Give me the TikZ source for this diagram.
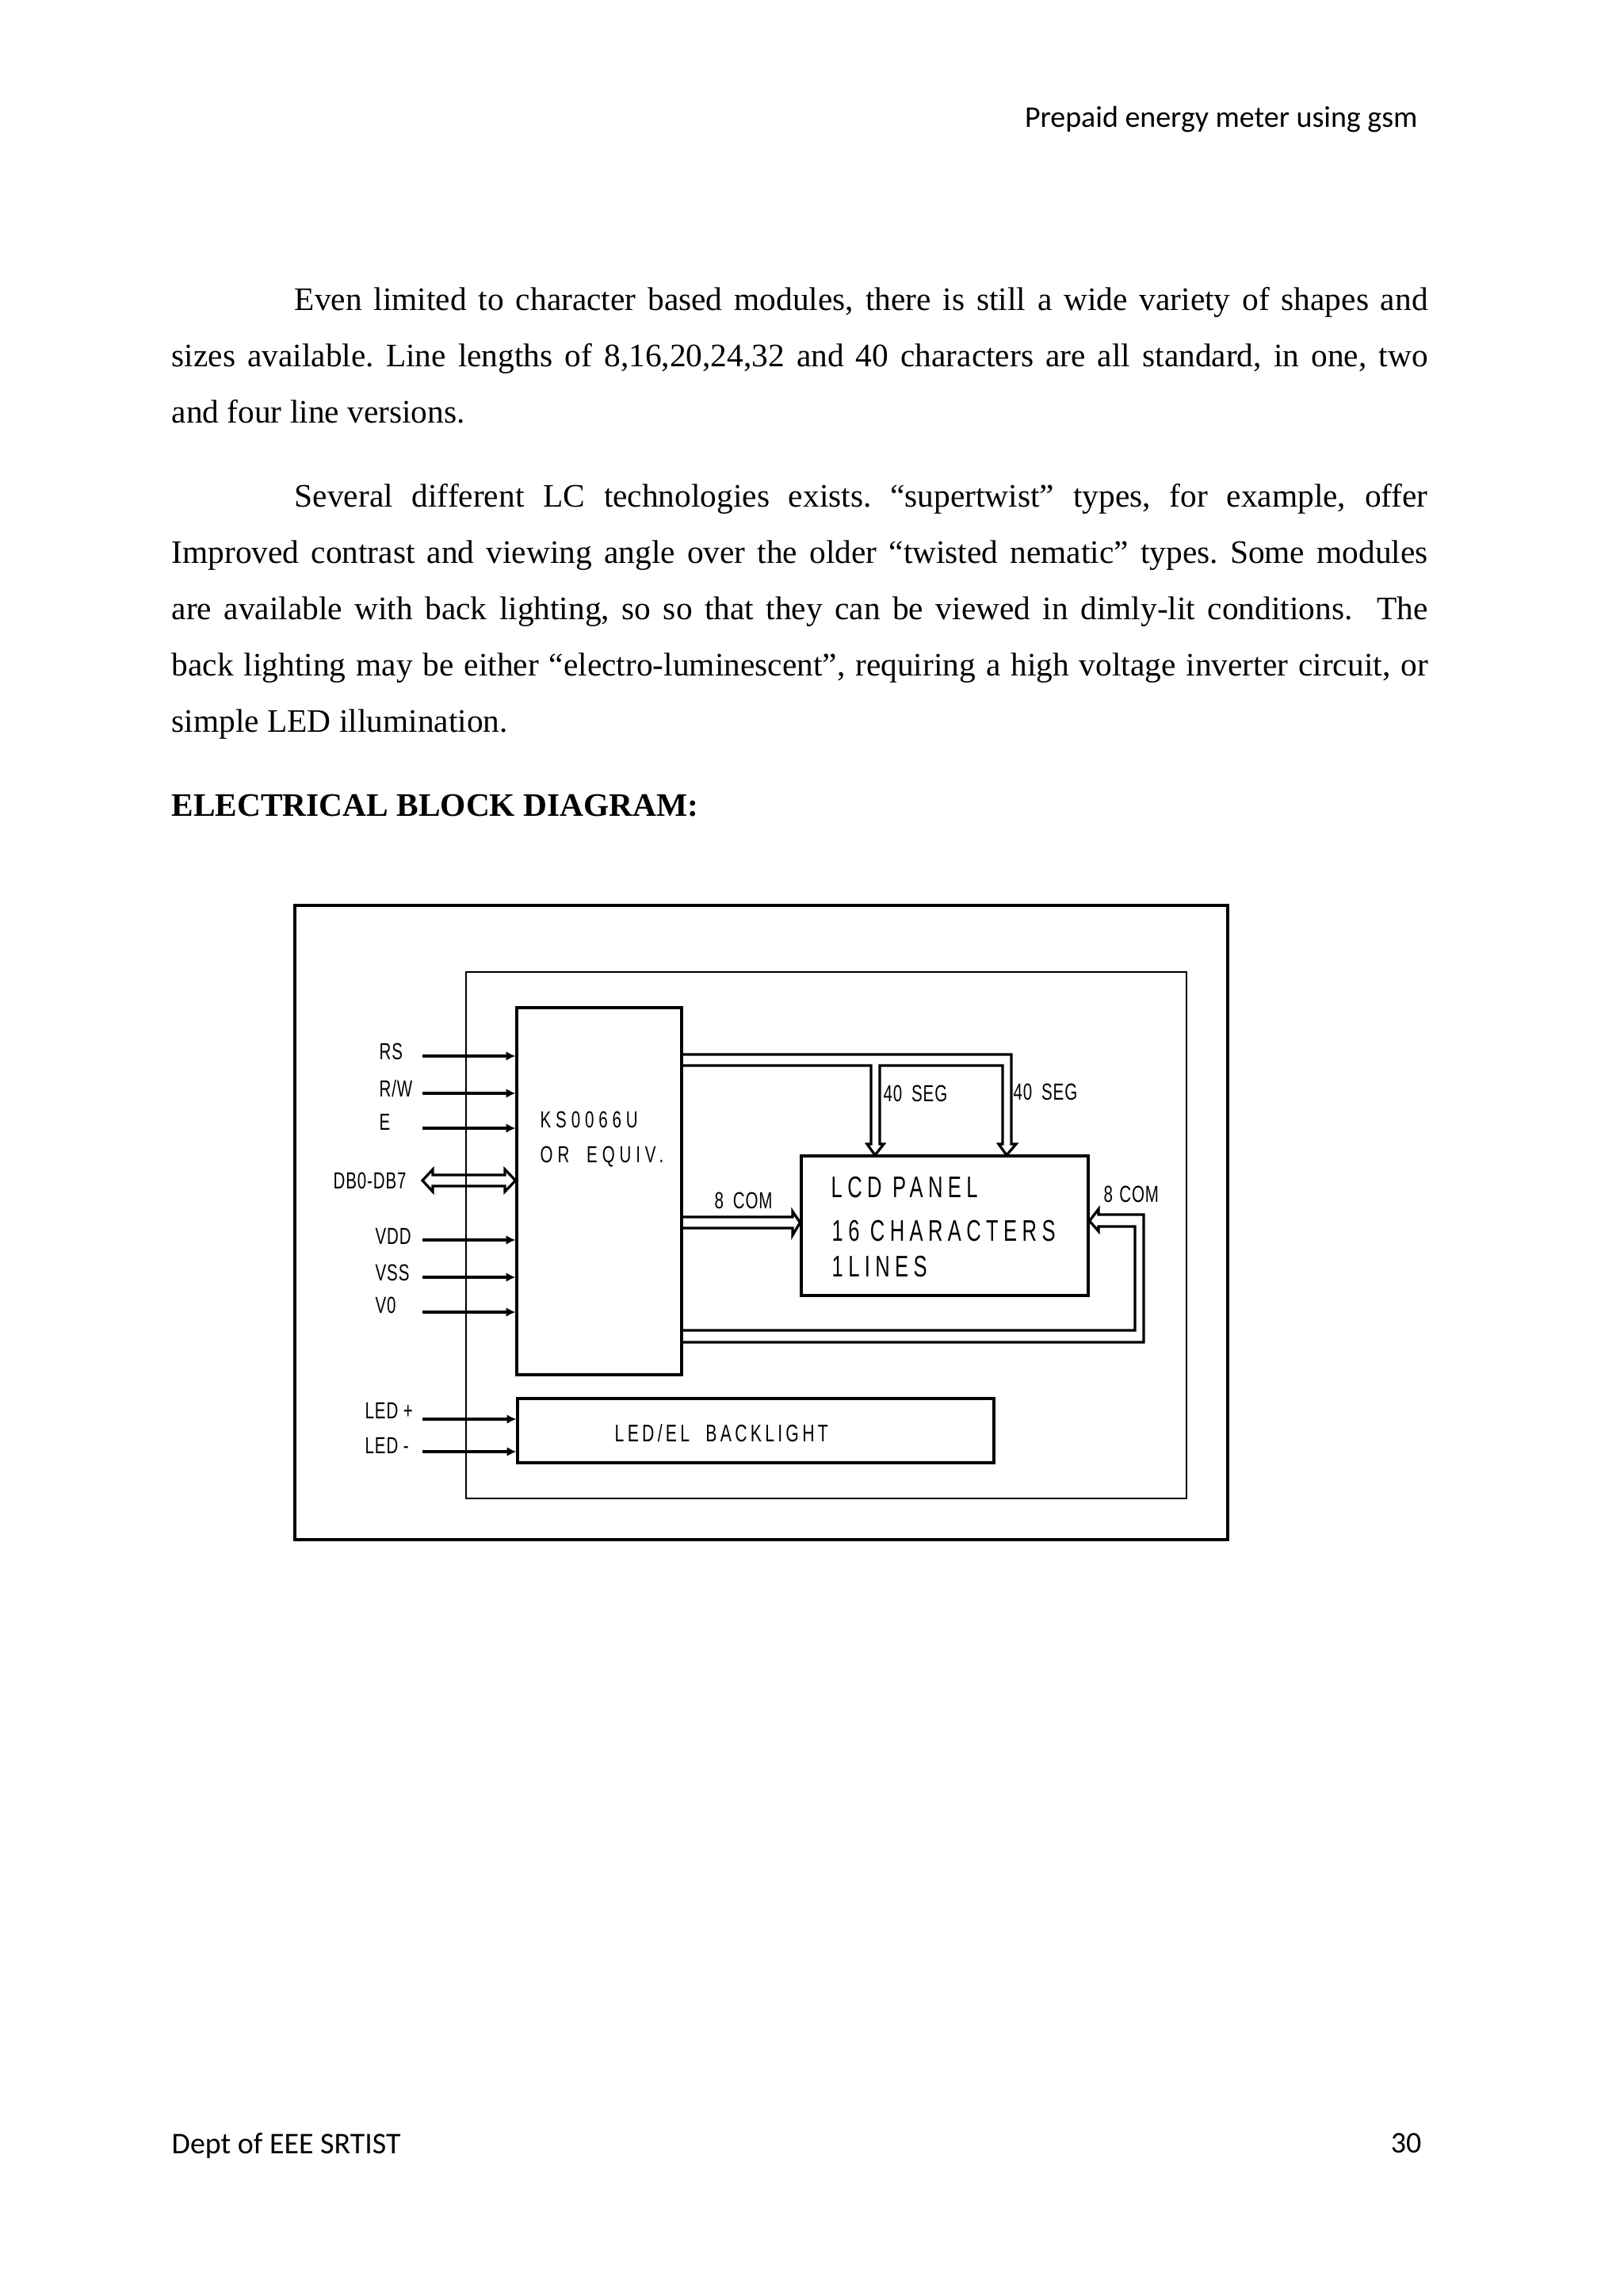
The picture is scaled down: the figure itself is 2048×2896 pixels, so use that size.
\documentclass[tikz,border=0pt]{standalone}
\usepackage{fontspec}
\setmainfont{Liberation Serif}
\newfontfamily\pagefoot{Carlito}
\newfontfamily\chipfont[FakeStretch=0.7,LetterSpace=3]{Liberation Sans}
\newfontfamily\wideifont[FakeStretch=0.7,LetterSpace=20]{Liberation Sans}
\newfontfamily\blfont[FakeStretch=0.7,LetterSpace=14]{Liberation Sans}
\newfontfamily\panelfont[FakeStretch=0.68,LetterSpace=17]{Liberation Sans}
\usetikzlibrary{arrows.meta,fit}
\tikzset{
    box/.style={draw, line width=0.9pt, inner sep=0pt},
    sig/.style={line width=0.95pt, -{Latex[length=3.4pt,width=3.4pt]}},
    bus/.style={line width=0.95pt, line join=miter},
    lbl/.style={anchor=west, inner sep=0pt, text depth=0pt, font=\chipfont\fontsize{8.5}{10}\selectfont},
    chip/.style={lbl, font=\wideifont\fontsize{8.5}{10}\selectfont},
    blname/.style={lbl, font=\blfont\fontsize{8.8}{10}\selectfont},
    panel/.style={lbl, font=\panelfont\fontsize{10.9}{13}\selectfont},
    para/.style={anchor=north west, inner sep=0pt, text width=459.6pt, align=justify, font=\fontsize{12}{20.6}\selectfont\frenchspacing\sloppy},
    foot/.style={inner sep=0pt, text depth=0.25ex, font=\pagefoot\fontsize{11}{13}\selectfont}
}
\begin{document}
\begin{tikzpicture}[x=0.29pt, y=-0.29pt]
    \useasboundingbox (0,0) rectangle (2048,2896);

    % Page text
    \node[foot, anchor=east] (header) at (1789,149) {Prepaid energy meter using gsm};
    \node[para] (parone) at (216,362) {\hspace*{45pt}Even limited to character based modules, there is still a wide variety of shapes and\linebreak sizes available. Line lengths of 8,16,20,24,32 and 40 characters are all standard, in one, two\linebreak and four line versions.};
    \node[para] (partwo) at (216,610) {\hspace*{45pt}Several different LC technologies exists. “supertwist” types, for example, offer\linebreak Improved contrast and viewing angle over the older “twisted nematic” types. Some modules\linebreak are available with back lighting, so so that they can be viewed in dimly-lit conditions.\ \ The\linebreak back lighting may be either “electro-luminescent”, requiring a high voltage inverter circuit, or\linebreak simple LED illumination.};
    \node[anchor=west, inner sep=0pt, font=\bfseries\fontsize{12}{14}\selectfont] (title) at (216,1016) {ELECTRICAL BLOCK DIAGRAM:};
    \node[foot, anchor=west] (footer) at (216,2705) {Dept of EEE SRTIST};
    \node[foot, anchor=east] (pageno) at (1794,2705) {30};

    % Boxes
    \node[box, fit={(372,1142) (1549,1942)}] (frame) {};
    \node[box, line width=0.8pt, fit={(588,1226) (1497,1890)}] (module) {};
    \node[box, fit={(652,1271) (860,1734)}] (ks) {};
    \node[box, fit={(1011,1458) (1373,1634)}] (lcd) {};
    \node[box, fit={(653,1764) (1254,1845)}] (backlight) {};

    % Box texts
    \node[chip] (ksname) at (681,1412) {KS0066U};
    \node[chip] (ksequiv) at (681,1456) {OR\hspace{3pt} EQUIV.};
    \node[panel] (lcdname) at (1048,1497) {LCD PANEL};
    \node[panel] (lcdchars) at (1049,1552) {16 CHARACTERS};
    \node[panel] (lcdlines) at (1049,1597) {1LINES};
    \node[blname] (blabel) at (775,1807) {LED/EL\ \ BACKLIGHT};

    % Input labels
    \node[lbl] (rsl) at (478,1326) {RS};
    \node[lbl] (rwl) at (478,1373) {R/W};
    \node[lbl] (el) at (478,1415) {E};
    \node[lbl] (dbl) at (420,1489) {DB0-DB7};
    \node[lbl] (vddl) at (473,1559) {VDD};
    \node[lbl] (vssl) at (473,1605) {VSS};
    \node[lbl] (vol) at (473,1646) {V0};
    \node[lbl] (ledpl) at (460,1779) {LED +};
    \node[lbl] (ledml) at (460,1823) {LED -};

    % Bus labels
    \node[lbl] (segl) at (1114,1379) {40\hspace{1.5pt} SEG};
    \node[lbl] (segr) at (1278,1377) {40\hspace{1.5pt} SEG};
    \node[lbl] (coml) at (901,1514) {8\hspace{1.5pt} COM};
    \node[lbl] (comr) at (1392,1506) {8\hspace{0.5pt} COM};

    % Input lines
    \foreach \name/\ypos in {rs/1332, rw/1379, e/1423, vdd/1564, vss/1611, vo/1655}
    {
        \coordinate (\name) at (533,\ypos);
        \draw[sig] (\name) -- (ks.west |- \name);
    }
    \foreach \name/\ypos in {ledp/1790, ledm/1831}
    {
        \coordinate (\name) at (533,\ypos);
        \draw[sig] (\name) -- (backlight.west |- \name);
    }

    % Data bus
    \coordinate (db) at (533,1489);
    \draw[bus] (db) -- (546,1475) -- (546,1482) -- (637,1482) -- (637,1475)
        -- (ks.west |- db) -- (637,1503) -- (637,1496) -- (546,1496) -- (546,1503) -- cycle;

    % Segment bus
    \coordinate (segtip) at (1104,1457);
    \coordinate (segtipb) at (1270,1457);
    \draw[bus] (ks.east |- 0,1344) -- (1099,1344) -- (1099,1443) -- (1094,1443)
        -- (segtip) -- (1115,1443) -- (1110,1443) -- (1110,1344)
        -- (1265,1344) -- (1265,1443) -- (1260,1443)
        -- (segtipb) -- (1282,1443) -- (1276,1443) -- (1276,1330) -- (ks.east |- 0,1330);

    % Common buses
    \coordinate (comtip) at (1011,1542);
    \draw[bus] (ks.east |- 0,1535) -- (1000,1535) -- (1000,1528)
        -- (lcd.west |- comtip) -- (1000,1558) -- (1000,1549) -- (ks.east |- 0,1549);
    \coordinate (comback) at (1373,1540);
    \draw[bus] (ks.east |- 0,1693) -- (1443,1693) -- (1443,1532) -- (1386,1532) -- (1386,1525)
        -- (lcd.east |- comback) -- (1386,1553) -- (1386,1547) -- (1432,1547) -- (1432,1678) -- (ks.east |- 0,1678);
\end{tikzpicture}
\end{document}
